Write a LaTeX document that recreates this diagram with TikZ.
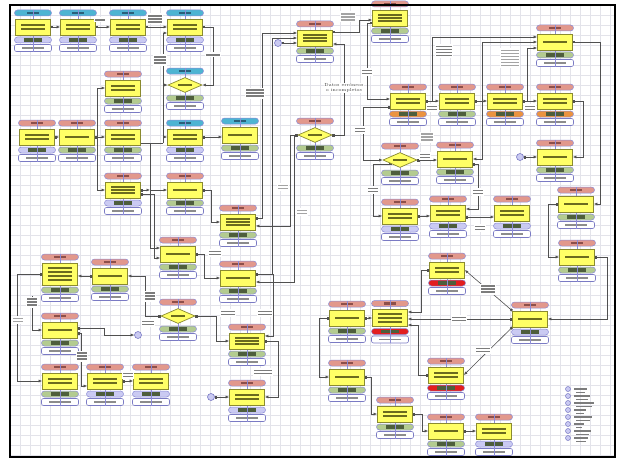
\documentclass[tikz,border=0pt]{standalone}
\usetikzlibrary{shapes.geometric,arrows.meta}
\pgfdeclarelayer{gridlayer}
\pgfdeclarelayer{bg}
\pgfsetlayers{gridlayer,bg,main}
\definecolor{yel}{HTML}{FFFF66}
\definecolor{boxb}{HTML}{8A8A30}
\definecolor{tbar}{HTML}{6B6B1E}
\definecolor{sal}{HTML}{E2988C}
\definecolor{salb}{HTML}{8E4F4A}
\definecolor{cya}{HTML}{4DB4D2}
\definecolor{cyab}{HTML}{2A607A}
\definecolor{lav}{HTML}{CACAF2}
\definecolor{grn}{HTML}{B3CB90}
\definecolor{org}{HTML}{EB9340}
\definecolor{rd}{HTML}{E21E1E}
\definecolor{pdark}{HTML}{4E5E3C}
\definecolor{purp}{HTML}{8C8CD6}
\definecolor{purp2}{HTML}{7A7AC4}
\definecolor{gbar}{HTML}{8C8C8C}
\definecolor{lnc}{HTML}{505050}
\definecolor{gridc}{HTML}{E3E3EA}
\definecolor{lblc}{HTML}{7C7C7C}
\definecolor{tcol}{HTML}{A4A4A4}
\tikzset{
  ybox/.style={draw=boxb, fill=yel, minimum width=35pt, minimum height=16pt, inner sep=0pt, line width=0.7pt},
  ydia/.style={diamond, draw=boxb, fill=yel, minimum width=34pt, minimum height=15pt, inner sep=0pt, line width=0.7pt},
  toppill/.style={draw=purp, rounded corners=3pt, minimum width=37pt, minimum height=6pt, inner sep=0pt, line width=0.5pt},
  whpill/.style={draw=purp2, fill=white, rounded corners=2pt, minimum width=37pt, minimum height=7pt, inner sep=0pt, line width=0.6pt},
  vln/.style={draw=purp, line width=0.9pt},
  conn/.style={draw=lnc, line width=0.6pt, arrows={Square[length=2.2pt,width=2.2pt]-Latex[length=3.5pt,width=3pt]}},
  connB/.style={draw=lnc, line width=0.6pt, arrows={-Latex[length=3.5pt,width=3pt]}},
  plain/.style={draw=lnc, line width=0.6pt},
  smallc/.style={circle, draw=purp2, fill=lav, minimum size=7pt, inner sep=0pt, line width=0.6pt},
  legc/.style={circle, draw=purp2, fill=lav, minimum size=5pt, inner sep=0pt, line width=0.5pt},
  tinytxt/.style={font=\fontsize{4.4}{5}\selectfont, text=black!80, fill=white, inner sep=0.6pt, align=center}
}
% name, x, y, top colour, top bar colour, mid colour, bar offsets, box height
\newcommand\unitb[8]{%
  \pgfmathsetmacro\uH{#8/2}%
  \pgfmathsetmacro\uT{#3-\uH-6}%
  \pgfmathsetmacro\uM{#3+\uH+5}%
  \pgfmathsetmacro\uW{#3+\uH+13}%
  \node[toppill, fill=#4] (#1t) at (#2,\uT) {};
  \fill[#5] (#2-6,\uT-1.2) rectangle (#2+6,\uT+1.2);
  \node[toppill, fill=#6] (#1m) at (#2,\uM) {};
  \fill[pdark] (#2-9,\uM-1.6) rectangle (#2+9,\uM+1.6);
  \node[whpill] (#1w) at (#2,\uW) {};
  \fill[gbar] (#2-11,\uW-0.9) rectangle (#2+11,\uW+0.9);
  \draw[vln] (#1t.north) -- (#1w.south);
  \node[ybox, minimum height=#8pt] (#1) at (#2,#3) {};
  \foreach \uo in {#7}{\fill[tbar] (#2-12,#3+\uo-1.1) rectangle (#2+12,#3+\uo+1.1);}
}
\newcommand\unitd[6]{%
  \node[toppill, fill=#4] (#1t) at (#2,#3-14) {};
  \fill[#5] (#2-6,#3-15.2) rectangle (#2+6,#3-12.8);
  \node[toppill, fill=#6] (#1m) at (#2,#3+13) {};
  \fill[pdark] (#2-9,#3+11.4) rectangle (#2+9,#3+14.6);
  \node[whpill] (#1w) at (#2,#3+21) {};
  \fill[gbar] (#2-11,#3+20.1) rectangle (#2+11,#3+21.9);
  \draw[vln] (#1t.north) -- (#1w.south);
  \node[ydia] (#1) at (#2,#3) {};
  \fill[tbar] (#2-7,#3-1.1) rectangle (#2+7,#3+1.1);
}
% x, y, lines, width, colour
\newcommand\lblx[5]{%
  \fill[white] (#1-#4/2-1,#2-#3*1.5-1) rectangle (#1+#4/2+1,#2+#3*1.5+1);
  \foreach \uk in {1,...,#3}{%
    \pgfmathsetmacro\uy{#2+(\uk-(#3+1)/2)*3}%
    \fill[#5] (#1-#4/2,\uy-0.9) rectangle (#1+#4/2,\uy+0.9);}%
}
\newcommand\lbl[4]{\lblx{#1}{#2}{#3}{#4}{lblc}}
\newcommand\tlbl[4]{\lblx{#1}{#2}{#3}{#4}{tcol}}
\begin{document}
\begin{tikzpicture}[x=1pt,y=-1pt]
\useasboundingbox (0,0) rectangle (623,460);
\begin{pgfonlayer}{gridlayer}
\fill[white] (0,0) rectangle (623,460);
\foreach \gx in {20,30,...,610} {\draw[gridc, line width=0.4pt] (\gx,5) -- (\gx,457);}
\foreach \gy in {15,25,...,455} {\draw[gridc, line width=0.4pt] (10,\gy) -- (615,\gy);}
\end{pgfonlayer}

% ---------- units ----------
\unitb{a1}{33}{27}{cya}{cyab}{lav}{-2,2}{16}
\unitb{a2}{78}{27}{cya}{cyab}{lav}{-2,2}{16}
\unitb{a3}{128}{27}{cya}{cyab}{lav}{-2,2}{16}
\unitb{a4}{185}{27}{cya}{cyab}{lav}{-2,2}{16}
\unitd{d1}{185}{85}{cya}{cyab}{grn}
\unitb{a5}{123}{88}{sal}{salb}{grn}{-2,2}{16}
\unitb{a6}{37}{137}{sal}{salb}{lav}{-2,2}{16}
\unitb{a7}{77}{137}{sal}{salb}{grn}{0}{16}
\unitb{a8}{123}{137}{sal}{salb}{grn}{-2,2}{16}
\unitb{a9}{185}{137}{cya}{cyab}{lav}{-2,2}{16}
\unitb{a10}{315}{38}{sal}{salb}{grn}{-3,0,3}{16}
\unitb{a11}{390}{18}{sal}{salb}{grn}{-3,0,3}{16}
\unitb{a12}{240}{135}{cya}{cyab}{grn}{0}{16}
\unitd{d2}{315}{135}{sal}{salb}{grn}
\unitb{a13}{408}{101}{sal}{salb}{org}{-2,2}{16}
\unitb{a14}{555}{42}{sal}{salb}{grn}{0}{16}
\unitb{a15}{457}{101}{sal}{salb}{grn}{-2,2}{16}
\unitb{a16}{505}{101}{sal}{salb}{org}{-2,2}{16}
\unitb{a17}{555}{101}{sal}{salb}{org}{-2,2}{16}
\unitb{a18}{555}{157}{sal}{salb}{grn}{0}{16}
\unitd{d3}{400}{160}{sal}{salb}{grn}
\unitb{a19}{455}{159}{sal}{salb}{grn}{0}{16}
\unitb{a47}{400}{216}{sal}{salb}{lav}{-2,2}{16}
\unitb{a20}{448}{213}{sal}{salb}{lav}{-2,2}{16}
\unitb{a21}{512}{213}{sal}{salb}{lav}{-2,2}{16}
\unitb{a22}{576}{204}{sal}{salb}{grn}{0}{16}
\unitb{a23}{577}{257}{sal}{salb}{grn}{0}{16}
\unitb{a24}{447}{270}{sal}{salb}{rd}{-2,2}{16}
\unitb{a26}{530}{319}{sal}{salb}{lav}{0}{16}
\unitb{a27}{446}{375}{sal}{salb}{rd}{-2,2}{16}
\unitb{a28}{446}{431}{sal}{salb}{grn}{0}{16}
\unitb{a29}{494}{431}{sal}{salb}{lav}{-2,2}{16}
\unitb{a30}{247}{341}{sal}{salb}{grn}{-3,0,3}{16}
\unitb{a31}{247}{397}{sal}{salb}{lav}{-2,2}{16}
\unitb{a32}{347}{318}{sal}{salb}{grn}{0}{16}
\unitb{a33}{390}{318}{sal}{salb}{rd}{-4,0,4}{17}
\unitb{a34}{347}{377}{sal}{salb}{grn}{0}{16}
\unitb{a35}{395}{414}{sal}{salb}{grn}{-2,2}{16}
\unitb{a36}{60}{330}{sal}{salb}{grn}{0}{16}
\unitd{d4}{178}{316}{sal}{salb}{grn}
\unitb{a37}{60}{381}{sal}{salb}{grn}{-2,2}{16}
\unitb{a38}{105}{381}{sal}{salb}{lav}{-2,2}{16}
\unitb{a39}{151}{381}{sal}{salb}{lav}{-2,2}{16}
\unitb{a40}{123}{190}{sal}{salb}{lav}{-3,0,3}{16}
\unitb{a41}{185}{190}{sal}{salb}{grn}{0}{16}
\unitb{a42}{178}{254}{sal}{salb}{grn}{0}{16}
\unitb{a43}{60}{274}{sal}{salb}{grn}{-6,-2,2,6}{22}
\unitb{a44}{110}{276}{sal}{salb}{grn}{0}{16}
\unitb{a45}{238}{222}{sal}{salb}{grn}{-3,0,3}{16}
\unitb{a46}{238}{278}{sal}{salb}{grn}{0}{16}

% circles
\node[smallc] (c1) at (278,43) {};
\node[smallc] (c2) at (520,157) {};
\node[smallc] (c3) at (138,335) {};
\node[smallc] (c4) at (211,397) {};

% junction points
\coordinate (k1) at (163,143);
\coordinate (k2) at (150,143);
\coordinate (k3) at (150,190);
\coordinate (k4) at (97,137);
\coordinate (k5) at (273,274);
\coordinate (k6) at (432,101);
\coordinate (k7) at (482,101);
\coordinate (k8) at (527,101);
\coordinate (k9) at (32,296);

% ---------- connectors ----------
\begin{pgfonlayer}{bg}
\draw[conn] (a1.east) -- (a2.west);
\draw[conn] (a2.east) -- (a3.west);
\draw[conn] (a3.east) -- (a4.west);
\draw[conn] (a4.east) -| ([xshift=11pt]d1.east) -- (d1.east);
\draw[plain] ([yshift=-6pt]a8.east) -- (k1);
\draw[connB] (k1) |- ([yshift=-6pt]a4.west);
\draw[connB] (k1) |- (d1.west);
\draw[connB] (k1) |- (a9.west);
\draw[connB] (k2) |- ([yshift=6pt]a42.west);
\draw[connB] (k3) -- (a41.west);
\draw[conn] (a40.east) -- (k3);
\draw[conn] ([yshift=-4pt]a40.east) -| ([xshift=-5.5pt,yshift=-4pt]a42.west) -- ([yshift=-4pt]a42.west);
\draw[conn] (a6.east) -- (a7.west);
\draw[conn] (a7.east) -- (a8.west);
\draw[connB] (k4) |- (a5.west);
\draw[connB] (k4) |- (a40.west);
\draw[conn] (a9.east) -- (a9.east -| a12.west);
\draw[conn] (a41.east) -| ([xshift=-8.5pt]a45.west) -- (a45.west);
\draw[conn] (a42.east) -| ([xshift=-15.5pt]a46.west) -- (a46.west);
\draw[conn] ([yshift=4pt]a45.east) -| ([xshift=-34.5pt,yshift=5pt]a10.west) -- ([yshift=5pt]a10.west);
\draw[conn] ([yshift=4pt]a46.east) -| ([xshift=-24.5pt]a10.west) -- (a10.west);
\draw[connB] (k5) |- ([yshift=5pt]a30.east);
\draw[conn] (c1) -- ([yshift=-5pt]a10.west);
\draw[conn] (d2.west) -| ([xshift=34.5pt,yshift=-4pt]a45.east) -- ([yshift=-4pt]a45.east);
\draw[conn] (d2.west) -| ([xshift=38.5pt,yshift=-4pt]a46.east) -- ([yshift=-4pt]a46.east);
\draw[conn] (d2.east) -| ([xshift=11.5pt,yshift=-6pt]a10.east) -- ([yshift=-6pt]a10.east);
\draw[conn] ([yshift=6pt]a10.east) -| ([xshift=-12.5pt,yshift=-2pt]a11.west) -- ([yshift=-2pt]a11.west);
\draw[conn] ([yshift=-5pt]a11.west) -| ([xshift=-22.5pt,yshift=2pt]a13.west) -- ([yshift=2pt]a13.west);
\draw[conn] ([yshift=-6pt]a13.west) -| ([xshift=-19pt]d3.west) -- (d3.west);
\draw[conn] (d3.south west) -| ([xshift=-8.5pt]a47.west) -- (a47.west);
\draw[conn] (d3.east) -- (d3.east -| a19.west);
\draw[conn] (a13.east) -- (a15.west);
\draw[conn] (a15.east) -- (a16.west);
\draw[conn] (a16.east) -- (a17.west);
\draw[connB] (k6) |- ([yshift=5pt]a14.west);
\draw[connB] (k7) |- (a14.west);
\draw[connB] (k8) |- ([yshift=-6pt]a14.west);
\draw[connB] (k7) |- (a19.east);
\draw[conn] (a17.east) -| ([xshift=10.5pt]a18.east) -- (a18.east);
\draw[conn] (c2) -- (a18.west);
\draw[conn] (a14.east) -| ([xshift=6.5pt]a22.east) -- (a22.east);
\draw[conn] ([yshift=-5pt]a19.east) -| ([xshift=12.5pt,yshift=4pt]a20.east) -- ([yshift=4pt]a20.east);
\draw[conn] (a47.east) -- (a47.east -| a20.west);
\coordinate (q1) at ([yshift=-4pt]a20.east);
\draw[conn] (q1) -- (q1 -| a21.west);
\draw[conn] (a22.west) -| ([xshift=-10.5pt]a23.west) -- (a23.west);
\draw[conn] (a23.east) -| ([xshift=59.5pt]a26.east) -- (a26.east);
\draw[conn] (a26.north west) -- (a24.east);
\draw[conn] (a26.west) -- (a26.west -| a33.east);
\draw[conn] (a26.south west) -- (a27.east);
\draw[conn] (a24.west) -| ([xshift=13.5pt,yshift=6pt]a33.east) -- ([yshift=6pt]a33.east);
\draw[conn] (a27.west) -| ([xshift=10.5pt,yshift=-7pt]a33.east) -- ([yshift=-7pt]a33.east);
\draw[conn] (a32.east) -- (a33.west);
\draw[conn] (a32.west) -| ([xshift=-9.5pt]a34.west) -- (a34.west);
\draw[conn] (a34.east) -| ([xshift=-5.5pt]a35.west) -- (a35.west);
\draw[conn] (a35.east) -| ([xshift=-5.5pt]a28.west) -- (a28.west);
\draw[conn] (a28.east) -- (a29.west);
\draw[conn] (a30.east) -| ([xshift=13.5pt]a31.east) -- (a31.east);
\draw[conn] (c4) -- (a31.west);
\draw[conn] (d4.east) -| ([xshift=-12.5pt]a30.west) -- (a30.west);
\draw[conn] (d4.west) -| ([xshift=17.5pt]a44.east) -- (a44.east);
\draw[conn] (a44.west) -- (a44.west -| a43.east);
\draw[conn] (a43.west) -| ([xshift=-24.5pt]a37.west) -- (a37.west);
\draw[connB] (k9) |- (a36.west);
\draw[conn] ([yshift=2pt]a36.east) -| ([xshift=-29.5pt]c3.west) -- (c3.west);
\draw[conn] ([yshift=-3pt]a36.east) -| ([xshift=-5.5pt,yshift=-5pt]a38.west) -- ([yshift=-5pt]a38.west);
\draw[conn] (a38.east) -- (a39.west);
\end{pgfonlayer}

% ---------- connector labels ----------
\lbl{100}{20}{1}{10}
\lbl{155}{19}{3}{14}
\lbl{213}{55}{1}{14}
\lbl{160}{60}{3}{12}
\lbl{255}{93}{3}{18}
\lbl{367}{72}{2}{10}
\lbl{360}{130}{2}{10}
\lbl{373}{190}{2}{10}
\lbl{425}{156}{2}{10}
\lbl{432}{108}{2}{10}
\lbl{530}{108}{2}{10}
\lbl{444}{51}{4}{16}
\lbl{478}{192}{2}{10}
\lbl{480}{228}{2}{10}
\lbl{488}{289}{3}{14}
\lbl{459}{319}{2}{14}
\lbl{483}{350}{2}{14}
\lbl{215}{253}{2}{12}
\lbl{150}{296}{3}{10}
\lbl{32}{302}{3}{10}
\lbl{82}{356}{3}{10}
\lbl{148}{323}{2}{12}
\lbl{128}{375}{2}{10}
\lbl{263}{372}{2}{18}
\lbl{228}{313}{2}{14}
\lbl{265}{313}{2}{14}
\tlbl{348}{17}{3}{14}
\tlbl{510}{58}{6}{18}
\tlbl{427}{137}{3}{12}
\tlbl{283}{187}{2}{10}
\tlbl{302}{212}{2}{10}
\tlbl{18}{320}{2}{10}
\node[tinytxt] (txt1) at (344,88) {Datos erróneos\\o incompletos};

% ---------- legend ----------
\foreach \i/\w in {0/13,1/16,2/20,3/12,4/18,5/10,6/17,7/14} {
  \node[legc] (leg\i) at (568,389+\i*7) {};
  \fill[lblc] (574,388+\i*7) rectangle ++(\w,1.8);
  \fill[lblc] (576,391.5+\i*7) rectangle ++(\w-4,1.2);
}

% frame
\draw[line width=2.5pt] (10,5) rectangle (615,457);
\end{tikzpicture}
\end{document}
